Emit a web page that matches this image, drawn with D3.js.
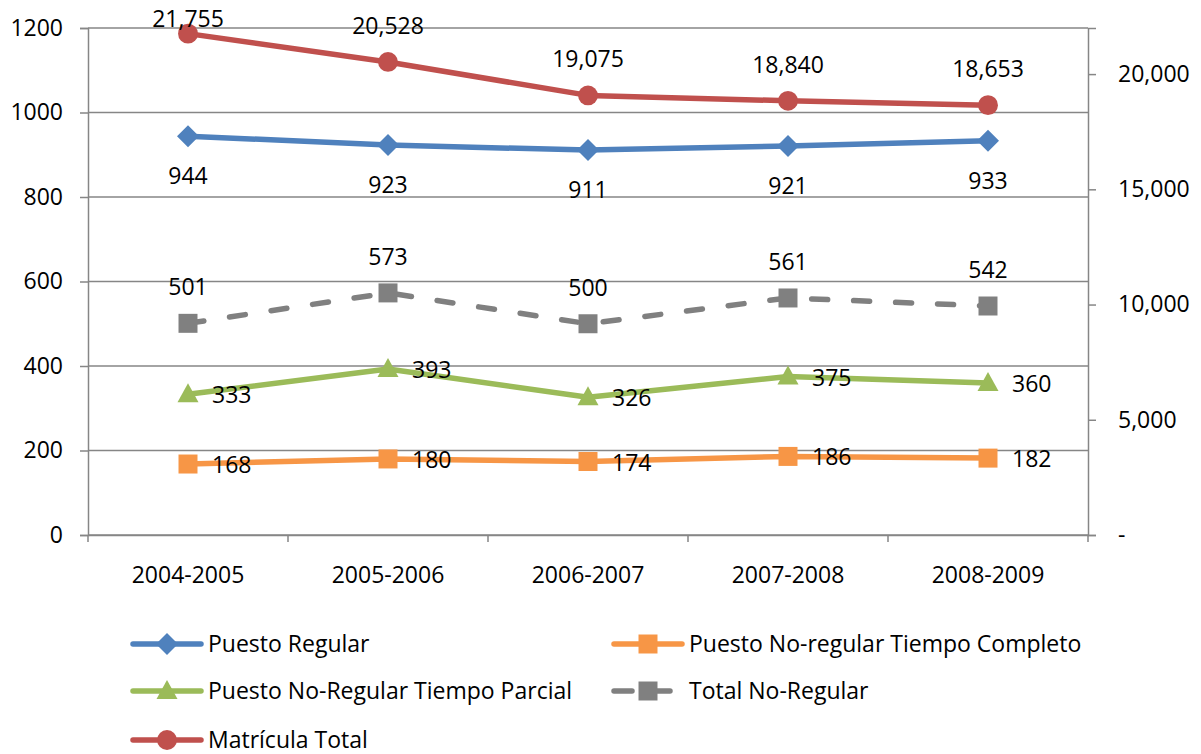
<!DOCTYPE html>
<html>
<head>
<meta charset="utf-8">
<script src="https://cdn.jsdelivr.net/npm/d3@7"></script>
<style>
  body { margin: 0; background: #fff; }
  svg text { font-family: "Open Sans", sans-serif; font-size: 23px; fill: #000; }
</style>
</head>
<body>
<svg id="chart" width="1201" height="754"></svg>
<script>
"use strict";

var categories = ['2004-2005', '2005-2006', '2006-2007', '2007-2008', '2008-2009'];
var puestoRegular = [944, 923, 911, 921, 933];
var noRegCompleto = [168, 180, 174, 186, 182];
var noRegParcial = [333, 393, 326, 375, 360];
var totalNoRegular = [501, 573, 500, 561, 542];
var matriculaTotal = [21755, 20528, 19075, 18840, 18653];
var leftTicks = [0, 200, 400, 600, 800, 1000, 1200];
var rightTicks = [0, 5000, 10000, 15000, 20000];

var series = [
    { name: 'Puesto Regular', values: puestoRegular, color: '#4F81BD', marker: 'diamond', axis: 'left', label: 'below' },
    { name: 'Puesto No-regular Tiempo Completo', values: noRegCompleto, color: '#F79646', marker: 'square', axis: 'left', label: 'right' },
    { name: 'Puesto No-Regular Tiempo Parcial', values: noRegParcial, color: '#9BBB59', marker: 'triangle', axis: 'left', label: 'right' },
    { name: 'Total No-Regular', values: totalNoRegular, color: '#808080', marker: 'square', axis: 'left', label: 'above', dash: true },
    { name: 'Matrícula Total', values: matriculaTotal, color: '#C0504D', marker: 'circle', axis: 'right', label: 'above' }
];

var svg = d3.select('#chart');
var plotLeft = 88, plotRight = 1088, plotTop = 28, plotBottom = 535;
var axisColor = '#868686';
var fontFamily = '"Open Sans", sans-serif';

var x = d3.scaleBand().domain(categories).range([plotLeft, plotRight]);
var yL = d3.scaleLinear().domain([0, 1200]).range([plotBottom, plotTop]);
var yR = d3.scaleLinear().domain([0, 22000]).range([plotBottom, plotTop]);

// gridlines
svg.append('g').selectAll('line').data(leftTicks).enter().append('line')
    .attr('x1', plotLeft).attr('x2', plotRight)
    .attr('y1', function (d) { return yL(d); }).attr('y2', function (d) { return yL(d); })
    .style('stroke', axisColor).style('stroke-width', 1.5);

// left axis
var gL = svg.append('g').attr('transform', 'translate(' + plotLeft + ',0)')
    .call(d3.axisLeft(yL).tickValues(leftTicks).tickSize(8).tickPadding(17).tickFormat(d3.format('d')));
// right axis
var gR = svg.append('g').attr('transform', 'translate(' + plotRight + ',0)')
    .call(d3.axisRight(yR).tickValues(rightTicks).tickSize(8).tickPadding(22)
        .tickFormat(function (d) { return d === 0 ? '-' : d3.format(',')(d); }));
// bottom axis with ticks on category boundaries
var gX = svg.append('g').attr('transform', 'translate(0,' + plotBottom + ')')
    .call(d3.axisBottom(x).tickSize(0).tickPadding(32));
gX.selectAll('.bound').data(d3.range(categories.length + 1)).enter().append('line')
    .attr('class', 'bound')
    .attr('x1', function (i) { return plotLeft + i * x.bandwidth(); })
    .attr('x2', function (i) { return plotLeft + i * x.bandwidth(); })
    .attr('y1', 0).attr('y2', 7);

[gL, gR, gX].forEach(function (g) {
    g.select('.domain').style('stroke', axisColor).style('stroke-width', 1.5);
    g.selectAll('line').style('stroke', axisColor).style('stroke-width', 1.5);
    g.selectAll('text').style('font-size', '23px').style('font-family', fontFamily).attr('fill', '#000');
});

function markerPath(type) {
    if (type === 'diamond') return 'M0,-11L11,0L0,11L-11,0Z';
    if (type === 'square') return 'M-9.5,-9.5H9.5V9.5H-9.5Z';
    if (type === 'triangle') return 'M0,-11L10.5,8L-10.5,8Z';
    return d3.symbol().type(d3.symbolCircle).size(310)();
}

function cx(i) { return x(categories[i]) + x.bandwidth() / 2; }

series.forEach(function (s) {
    var y = s.axis === 'left' ? yL : yR;
    var line = d3.line()
        .x(function (d, i) { return cx(i); })
        .y(function (d) { return y(d); });
    svg.append('path').datum(s.values)
        .attr('d', line)
        .style('fill', 'none')
        .style('stroke', s.color)
        .style('stroke-width', 5.5)
        .style('stroke-linecap', 'round')
        .style('stroke-linejoin', 'round')
        .style('stroke-dasharray', s.dash ? '16,26' : null);
    svg.append('g').selectAll('path').data(s.values).enter().append('path')
        .attr('d', markerPath(s.marker))
        .attr('transform', function (d, i) { return 'translate(' + cx(i) + ',' + y(d) + ')'; })
        .style('fill', s.color);
});

// data labels
var fmt = d3.format(',');
series.forEach(function (s) {
    var y = s.axis === 'left' ? yL : yR;
    svg.append('g').selectAll('text').data(s.values).enter().append('text')
        .attr('x', function (d, i) { return s.label === 'right' ? cx(i) + 24 : cx(i); })
        .attr('y', function (d) {
            if (s.label === 'above') return Math.max(y(d) - 36, 19);
            if (s.label === 'below') return y(d) + 40;
            return y(d) + 1;
        })
        .attr('dy', '0.35em')
        .attr('text-anchor', s.label === 'right' ? 'start' : 'middle')
        .text(function (d) { return fmt(d); });
});

// legend
var legendPos = [
    { x: 131, y: 644 }, { x: 612, y: 644 },
    { x: 131, y: 691 }, { x: 612, y: 691 },
    { x: 131, y: 740 }
];
series.forEach(function (s, i) {
    var p = legendPos[i];
    var lg = svg.append('g').attr('transform', 'translate(' + p.x + ',' + p.y + ')');
    lg.append('line').attr('x1', 2).attr('x2', 70).attr('y1', 0).attr('y2', 0)
        .style('stroke', s.color).style('stroke-width', 5.5)
        .style('stroke-linecap', 'round')
        .style('stroke-dasharray', s.dash ? '18,20' : null);
    lg.append('path').attr('d', markerPath(s.marker))
        .attr('transform', 'translate(36,0)')
        .style('fill', s.color);
    lg.append('text').attr('x', 77).attr('dy', '0.35em').text(s.name);
});
</script>
</body>
</html>
